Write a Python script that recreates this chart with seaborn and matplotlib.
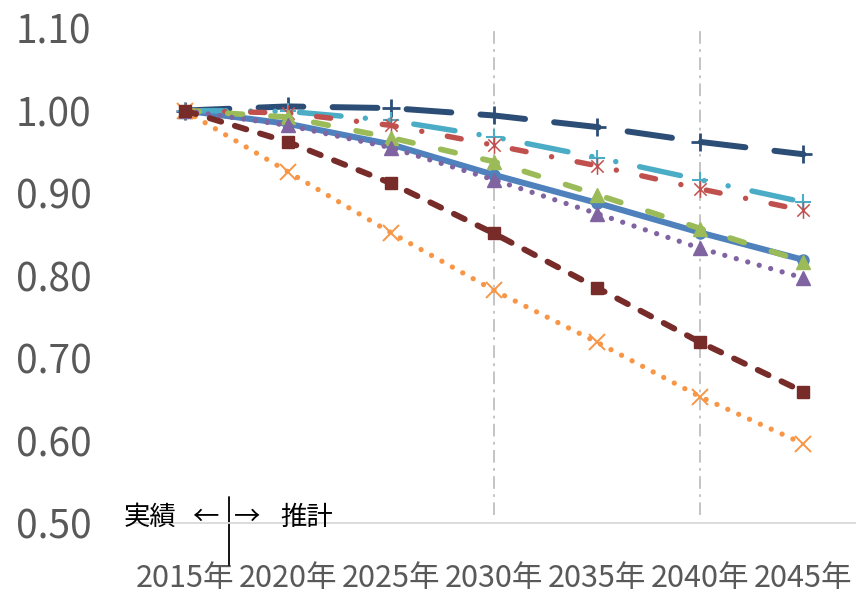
import matplotlib
matplotlib.use("Agg")
import matplotlib.pyplot as plt
import numpy as np
import pandas as pd
import seaborn as sns
from matplotlib.path import Path

# 2015年を1.00とした指数
years = [2015, 2020, 2025, 2030, 2035, 2040, 2045]
year_labels = [f"{y}年" for y in years]

series_names = ["系列1", "系列2", "系列3", "系列4", "系列5", "系列6", "系列7", "系列8"]
s_navy = [1.000, 1.005, 1.003, 0.994, 0.980, 0.962, 0.947]
s_cyan = [1.000, 0.999, 0.988, 0.968, 0.943, 0.916, 0.889]
s_red = [1.000, 0.997, 0.982, 0.958, 0.933, 0.905, 0.879]
s_green = [1.000, 0.992, 0.967, 0.938, 0.898, 0.857, 0.817]
s_blue = [1.000, 0.984, 0.959, 0.922, 0.888, 0.852, 0.819]
s_purple = [1.000, 0.982, 0.955, 0.916, 0.875, 0.833, 0.797]
s_orange = [1.000, 0.926, 0.852, 0.782, 0.719, 0.653, 0.596]
s_darkred = [1.000, 0.962, 0.912, 0.851, 0.785, 0.719, 0.659]

y_ticks = [0.5, 0.6, 0.7, 0.8, 0.9, 1.0, 1.1]
marked_years = [2030, 2040]

# excel風の「*」マーカー
star = Path([(-1, -1), (1, 1), (-1, 1), (1, -1), (0, -1.35), (0, 1.35)],
            [Path.MOVETO, Path.LINETO] * 3)

# 描画順に並べたスタイル: (値, 色, 線種, 線幅, マーカー, サイズ, 線幅(マーカー))
styles = [
    (s_blue, "#4F81BD", "-", 4.4, "o", 8, 1),
    (s_navy, "#2C4D75", (0, (7.5, 4.9)), 4.3, "+", 13, 2),
    (s_cyan, "#4BACC6", (0, (7.7, 4.5, 0.01, 4.5, 0.01, 4.5)), 3.9, "+", 12, 1.5),
    (s_red, "#C0504D", (0, (2.6, 4.8, 0.01, 4.8)), 3.9, star, 12, 1.1),
    (s_green, "#9BBB59", (0, (2.6, 5.0)), 4.1, "^", 10, 1),
    (s_purple, "#8064A2", (0, (0.01, 2.25)), 3.8, "^", 10, 1),
    (s_orange, "#F79646", (0, (0.01, 2.25)), 3.8, "x", 11, 1.4),
    (s_darkred, "#772C2A", (0, (2.0, 2.4)), 4.3, "s", 9, 1),
]

sns.set_style("white")
plt.rcParams["font.family"] = ["Noto Sans CJK JP", "DejaVu Sans"]
plt.rcParams["lines.dash_capstyle"] = "round"
plt.rcParams["lines.solid_capstyle"] = "round"

fig = plt.figure(figsize=(8.57, 5.93), dpi=100)
ax = fig.add_axes([0.1552, 0.118, 0.8425, 0.8347])

# 2030年・2040年の補助線
ax.vlines(marked_years, 0.51, 1.104, colors="#BFBFBF", linewidth=1.3,
          linestyles=[(0, (7, 3, 1.5, 3))], zorder=1)

for name, (vals, color, ls, lw, mk, ms, mew) in zip(series_names, styles):
    df = pd.DataFrame({"year": years, "value": vals})
    sns.lineplot(data=df, x="year", y="value", color=color, linestyle=ls,
                 linewidth=lw, marker=mk, markersize=ms, markeredgewidth=mew,
                 markeredgecolor=color, markerfacecolor=color, errorbar=None,
                 ax=ax, label=name, legend=False)

ax.set_xlim(2012.5, 2047.5)
ax.set_ylim(0.5, 1.1)
ax.set_xticks(years, year_labels)
ax.set_yticks(y_ticks, [f"{v:.2f}" for v in y_ticks])
ax.tick_params(axis="y", labelsize=28, colors="#595959", length=0, pad=30)
ax.tick_params(axis="x", labelsize=22, colors="#595959", length=0, pad=29)
ax.set_xlabel("")
ax.set_ylabel("")
for side in ["top", "right", "left"]:
    ax.spines[side].set_visible(False)
ax.spines["bottom"].set_color("#D9D9D9")
ax.spines["bottom"].set_linewidth(1.3)

# 実績と推計の区切り
divider = 2017.13
ax.plot([divider, divider], [0.5315, 0.449], color="black", linewidth=1.3,
        clip_on=False)
labels_y = 0.507
ax.text(divider - 2.55, labels_y, "実績", fontsize=19, ha="right", va="center",
        color="black")
ax.text(divider - 0.5, labels_y, "←", fontsize=19, ha="right", va="center",
        color="black")
ax.text(divider + 0.25, labels_y, "→", fontsize=19, ha="left", va="center",
        color="black")
ax.text(divider + 2.5, labels_y, "推計", fontsize=19, ha="left", va="center",
        color="black")

fig.savefig("out.png", dpi=100)
